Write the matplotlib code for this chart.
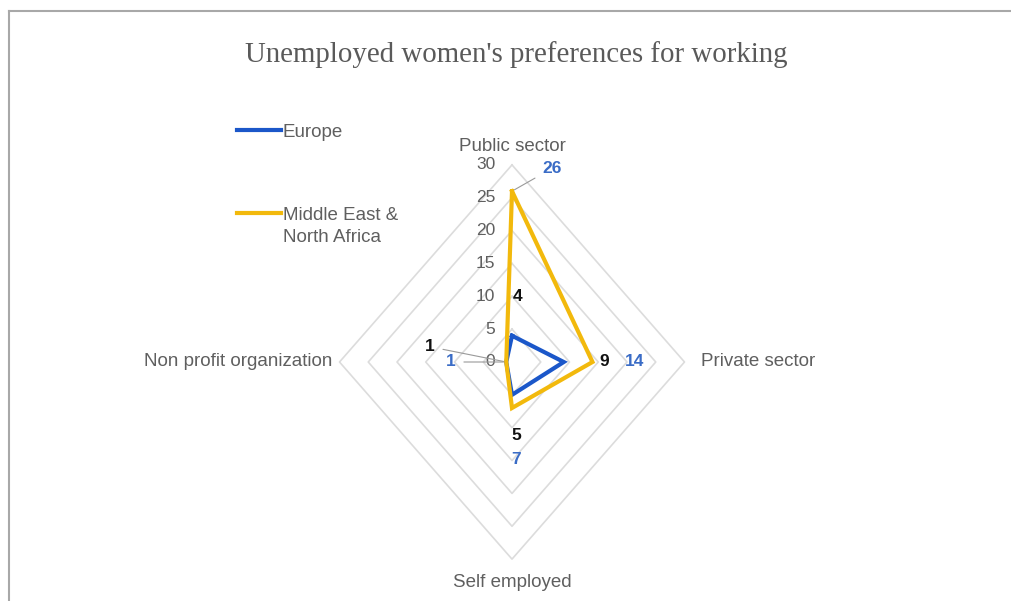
import numpy as np
import matplotlib
matplotlib.use("Agg")
import matplotlib.pyplot as plt
from matplotlib.lines import Line2D

# ---- data ----
categories = ["Public sector", "Private sector", "Self employed", "Non profit organization"]
series_names = ["Europe", "Middle East &\nNorth Africa"]
europe = [4, 9, 5, 1]
mena = [26, 14, 7, 1]
ticks = [0, 5, 10, 15, 20, 25, 30]
r_max = 30

W, H = 1011, 601
DPI = 100
BLUE = "#1B57C9"
YELLOW = "#F2B90C"
LABEL_BLUE = "#3A6CC6"
GREY_TXT = "#5F5F5F"
GRID = "#DCDCDC"
SANS = ["Liberation Sans", "DejaVu Sans"]

fig = plt.figure(figsize=(W / DPI, H / DPI), dpi=DPI)
fig.patch.set_facecolor("white")
ax = fig.add_axes([0, 0, 1, 1])
ax.axis("off")

# chart centre and scale (pixels per unit, horizontal / vertical)
cx, cy = 512, 362
sx, sy = 5.75, 6.57
ax.set_xlim(-cx / sx, (W - cx) / sx)
ax.set_ylim(-(H - cy) / sy, cy / sy)

theta = np.deg2rad([0, 90, 180, 270])
ux = np.round(np.sin(theta), 6)
uy = np.round(np.cos(theta), 6)


def to_xy(vals):
    v = np.asarray(vals, dtype=float)
    return v * ux, v * uy


# diamond grid rings
for t in ticks[1:]:
    gx, gy = to_xy([t] * 4)
    ax.plot(np.append(gx, gx[0]), np.append(gy, gy[0]), color=GRID, lw=1.2, zorder=1)

# tick labels along the top spoke
for t in ticks:
    ax.annotate(str(t), xy=(0, t), xytext=(-12, 0), textcoords="offset points",
                ha="right", va="center", fontsize=12.5, color=GREY_TXT, family=SANS)

# series polygons
for vals, col in ((europe, BLUE), (mena, YELLOW)):
    px, py = to_xy(vals)
    ax.plot(np.append(px, px[0]), np.append(py, py[0]), color=col, lw=3.0,
            solid_joinstyle="miter", zorder=3)

# category labels
cat_off = [((0, 7), "center", "bottom"), ((12, 0), "left", "center"),
           ((0, -11), "center", "top"), ((-5, 0), "right", "center")]
for name, x, y, (off, ha, va) in zip(categories, *to_xy([r_max] * 4), cat_off):
    ax.annotate(name, xy=(x, y), xytext=off, textcoords="offset points",
                ha=ha, va=va, fontsize=13.5, color=GREY_TXT, family=SANS)

# data labels (offsets in points from each vertex)
eu_off = [(4, 28), (29, 0), (3, -29.5), (-55, 11)]
me_off = [(29, 16.5), (30, 0), (3, -37), (-40, 0)]
eu_x, eu_y = to_xy(europe)
me_x, me_y = to_xy(mena)
lead = dict(arrowstyle="-", color="#9A9A9A", lw=0.8, shrinkA=4, shrinkB=2)
for i, v in enumerate(europe):
    ap = lead if i == 3 else None
    ax.annotate(str(v), xy=(eu_x[i], eu_y[i]), xytext=eu_off[i], textcoords="offset points",
                ha="center", va="center", fontsize=12.5, fontweight="bold", color="#111111",
                family=SANS, arrowprops=ap, zorder=5)
for i, v in enumerate(mena):
    ap = lead if i in (0, 3) else None
    ax.annotate(str(v), xy=(me_x[i], me_y[i]), xytext=me_off[i], textcoords="offset points",
                ha="center", va="center", fontsize=12.5, fontweight="bold", color=LABEL_BLUE,
                family=SANS, arrowprops=ap, zorder=5)

# title
fig.text(516 / W, 1 - 55 / H, "Unemployed women's preferences for working",
         ha="center", va="center", fontsize=20.8, color="#5A5A5A",
         family=["Liberation Serif", "DejaVu Serif"])

# legend
leg_items = [(series_names[0], BLUE, 130), (series_names[1], YELLOW, 213)]
for name, col, ypx in leg_items:
    fig.add_artist(Line2D([237 / W, 281 / W], [1 - ypx / H] * 2, color=col, lw=3.0,
                          transform=fig.transFigure))
    fig.text(283 / W, 1 - (ypx - 6) / H, name, ha="left", va="top", fontsize=13.5,
             color=GREY_TXT, family=SANS, linespacing=1.35)

# outer frame (top and left edges)
fig.add_artist(Line2D([8.5 / W, 1.0], [1 - 10.5 / H] * 2, color="#A8A8A8", lw=1.5,
                      transform=fig.transFigure))
fig.add_artist(Line2D([8.5 / W] * 2, [1 - 10.5 / H, 0.0], color="#A8A8A8", lw=1.5,
                      transform=fig.transFigure))

fig.savefig("out.png", dpi=DPI, facecolor="white")
